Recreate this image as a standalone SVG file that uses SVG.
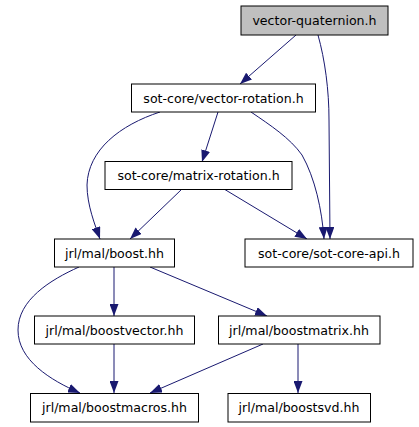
<svg xmlns="http://www.w3.org/2000/svg" width="419" height="427" viewBox="0 0 419 427">
<style>
.n rect{fill:#fff;stroke:#000;stroke-width:1}
.n text{font-family:"DejaVu Sans",sans-serif;font-size:12.6px;text-anchor:middle;fill:#000}
#edges path{fill:none;stroke:#191970;stroke-width:1;marker-end:url(#ah)}
</style>
<defs>
<marker id="ah" viewBox="0 0 12 9" refX="12" refY="4.5" markerWidth="12" markerHeight="9" markerUnits="userSpaceOnUse" orient="auto">
<path d="M0,0 L12,4.5 L0,9 z" fill="#191970"/>
</marker>
</defs>
<rect width="419" height="427" fill="#fff"/>
<g id="edges">
<path d="M296,35 L240,84"/>
<path d="M318,35 C325,60 329,90 329,120 L330,239"/>
<path d="M160,112 C120,125 88,150 87,185 C87,205 95,225 100,239"/>
<path d="M218,112 L202,162"/>
<path d="M251,112 C270,125 290,138 302,155 C315,178 322,210 324,239"/>
<path d="M182,189 L130,239"/>
<path d="M224,189 L307,239"/>
<path d="M79,267 C50,280 18,300 18,330 C18,360 50,380 80,393"/>
<path d="M114,267 L114,316"/>
<path d="M150,267 L267,316"/>
<path d="M114,344 L114,393"/>
<path d="M263,344 L150,393"/>
<path d="M298,344 L298,393"/>
</g>
<g id="vector-quaternion" class="n"><rect x="241" y="6" width="147" height="29" style="fill:#bfbfbf"/><text x="314.5" y="25">vector-quaternion.h</text></g>
<g id="vector-rotation" class="n"><rect x="131.5" y="84" width="184" height="28"/><text x="223.5" y="102.5">sot-core/vector-rotation.h</text></g>
<g id="matrix-rotation" class="n"><rect x="105" y="161.5" width="187" height="28"/><text x="198.5" y="180">sot-core/matrix-rotation.h</text></g>
<g id="boost" class="n"><rect x="54.5" y="239" width="120" height="28"/><text x="114.5" y="257.5">jrl/mal/boost.hh</text></g>
<g id="sot-core-api" class="n"><rect x="245" y="239" width="168" height="28"/><text x="329" y="257.5">sot-core/sot-core-api.h</text></g>
<g id="boostvector" class="n"><rect x="34.5" y="316" width="160" height="28"/><text x="114.5" y="334.5">jrl/mal/boostvector.hh</text></g>
<g id="boostmatrix" class="n"><rect x="218.5" y="316" width="161.5" height="28"/><text x="299" y="334.5">jrl/mal/boostmatrix.hh</text></g>
<g id="boostmacros" class="n"><rect x="30.5" y="393.5" width="168" height="28.5"/><text x="114.5" y="412">jrl/mal/boostmacros.hh</text></g>
<g id="boostsvd" class="n"><rect x="228" y="393.5" width="142.5" height="28.5"/><text x="299" y="412">jrl/mal/boostsvd.hh</text></g>
</svg>
